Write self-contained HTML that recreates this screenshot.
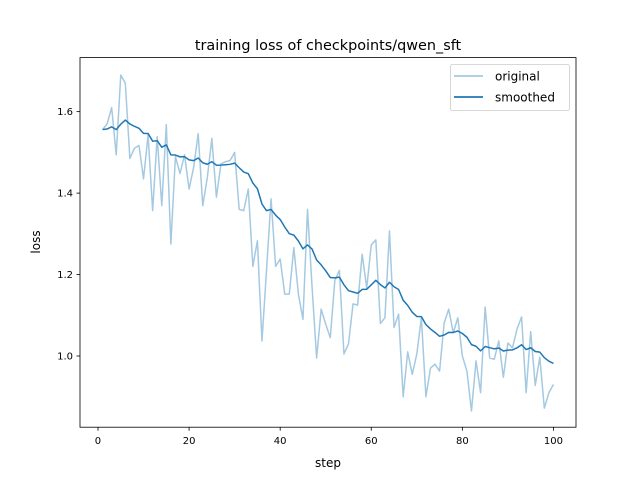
<!DOCTYPE html>
<html><head><meta charset="utf-8"><style>
body{margin:0;background:#fff}
svg text{font-family:"DejaVu Sans","Liberation Sans",sans-serif;fill:#000}
</style></head><body>
<svg id="chart" width="640" height="480">
<rect width="640" height="480" fill="#fff"/>
<text x="328" y="50" font-size="14.4" text-anchor="middle">training loss of checkpoints/qwen_sft</text>
<g id="grid"></g>
<g id="series"></g>
<rect x="80" y="57.6" width="496" height="369.6" fill="none" stroke="#000" stroke-width="0.8"/>
<g id="axes"></g>
<text x="328" y="467" font-size="12" text-anchor="middle">step</text>
<text x="40" y="242" font-size="12" text-anchor="middle" transform="rotate(-90 40 242)">loss</text>
<g>
<rect x="450.5" y="64.5" width="119" height="46" rx="2" fill="#fff" fill-opacity="0.8" stroke="#ccc" stroke-width="0.8"/>
<line x1="454" y1="76" x2="483" y2="76" stroke="#1f77b4" stroke-opacity="0.4" stroke-width="1.8"/>
<text x="495" y="80.5" font-size="12">original</text>
<line x1="454" y1="97" x2="483" y2="97" stroke="#1f77b4" stroke-width="1.8"/>
<text x="495" y="101.5" font-size="12">smoothed</text>
</g>
</svg>
<script>
const original = [1.556,1.57,1.61,1.494,1.69,1.67,1.485,1.51,1.517,1.435,1.543,1.357,1.539,1.369,1.568,1.275,1.49,1.448,1.494,1.41,
1.463,1.546,1.369,1.438,1.534,1.39,1.472,1.477,1.48,1.5,1.36,1.357,1.41,1.22,1.283,1.037,1.21,1.386,1.22,1.238,
1.152,1.152,1.266,1.152,1.09,1.36,1.17,0.995,1.115,1.078,1.045,1.185,1.21,1.005,1.03,1.128,1.125,1.25,1.167,1.273,
1.285,1.08,1.094,1.307,1.07,1.103,0.90,1.01,0.955,1.005,1.094,0.90,0.97,0.98,0.963,1.081,1.115,1.057,1.094,1.0,
0.963,0.865,0.988,0.91,1.12,0.995,0.992,1.037,0.948,1.032,1.02,1.066,1.096,0.91,1.06,0.928,0.997,0.872,0.91,0.93];
const xTicks = [0,20,40,60,80,100];
const yTicks = [1.0,1.2,1.4,1.6];
const smoothWeight = 0.9;
const smoothed = [];
original.forEach((v,i)=>{smoothed.push(i===0?v:smoothed[i-1]*smoothWeight+v*(1-smoothWeight));});
const steps = original.map((_,i)=>i+1);
const L=80,R=576,T=57.6,B=427.2;
const xmin=-3.95,xmax=104.95,ymin=0.8252,ymax=1.7327;
const X=v=>L+(v-xmin)/(xmax-xmin)*(R-L);
const Y=v=>B-(v-ymin)/(ymax-ymin)*(B-T);
const NS="http://www.w3.org/2000/svg";
const ser=document.getElementById('series'), ax=document.getElementById('axes');
function mk(tag,attrs,parent){const e=document.createElementNS(NS,tag);for(const k in attrs)e.setAttribute(k,attrs[k]);parent.appendChild(e);return e;}
const po=mk('polyline',{points:steps.map((s,i)=>X(s)+','+Y(original[i])).join(' '),fill:'none',stroke:'#1f77b4','stroke-opacity':0.4,'stroke-width':1.5,'stroke-linejoin':'round'},ser);


const ps=mk('polyline',{points:steps.map((s,i)=>X(s)+','+Y(smoothed[i])).join(' '),fill:'none',stroke:'#1f77b4','stroke-width':1.5,'stroke-linejoin':'round'},ser);


xTicks.forEach(t=>{const x=X(t);
const l=mk('line',{x1:x,x2:x,y1:B,y2:B+3.5,stroke:'#000','stroke-width':0.8},ax);


const tx=mk('text',{x:x,y:B+17,'font-size':10,'text-anchor':'middle'},ax);tx.textContent=t;

});
yTicks.forEach(t=>{const y=Y(t);
const l=mk('line',{x1:L-3.5,x2:L,y1:y,y2:y,stroke:'#000','stroke-width':0.8},ax);


const tx=mk('text',{x:L-7,y:y+3.6,'font-size':10,'text-anchor':'end'},ax);tx.textContent=t.toFixed(1);

});
</script>
</body></html>
